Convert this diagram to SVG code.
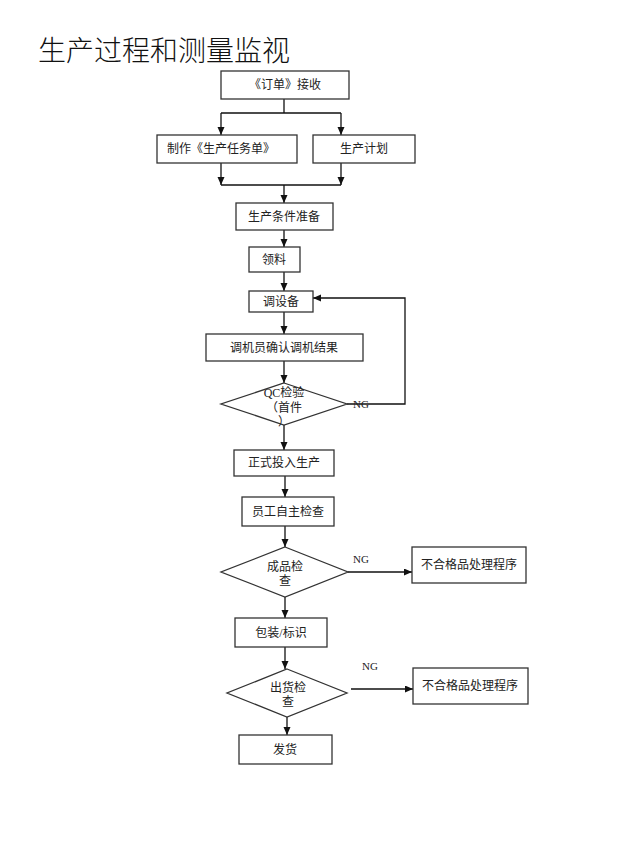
<svg xmlns="http://www.w3.org/2000/svg" width="640" height="853" viewBox="0 0 640 853">
<defs>
<style>
.box{fill:#fff;stroke:#333;stroke-width:1.3}
.t{font-family:"Liberation Serif","Noto Sans CJK SC",serif;font-size:12px;fill:#222;text-anchor:middle}
.ng{font-family:"Liberation Serif",serif;font-size:11px;fill:#222}
.c{fill:none;stroke:#111;stroke-width:1.3}
</style>
<marker id="ah" markerUnits="userSpaceOnUse" markerWidth="9" markerHeight="8" refX="8" refY="3.5" orient="auto">
<path d="M0,0 L8,3.5 L0,7 z" fill="#111"/>
</marker>
</defs>
<rect width="640" height="853" fill="#fff"/>
<text x="38" y="61" font-family="'Noto Sans CJK SC',sans-serif" font-size="28" font-weight="300" fill="#111">生产过程和测量监视</text>

<g id="connectors">
<path class="c" d="M284,99 V113 M221,113 H341"/>
<path class="c" d="M221,113 V135" marker-end="url(#ah)"/>
<path class="c" d="M341,113 V135" marker-end="url(#ah)"/>
<path class="c" d="M221,163 V185" marker-end="url(#ah)"/>
<path class="c" d="M341,163 V185" marker-end="url(#ah)"/>
<path class="c" d="M221,185 H341"/>
<path class="c" d="M284,185 V203" marker-end="url(#ah)"/>
<path class="c" d="M284,230 V247" marker-end="url(#ah)"/>
<path class="c" d="M284,272 V291" marker-end="url(#ah)"/>
<path class="c" d="M284,312 V334" marker-end="url(#ah)"/>
<path class="c" d="M284,361 V383" marker-end="url(#ah)"/>
<path class="c" d="M347,404 H405 V298 H313" marker-end="url(#ah)"/>
<path class="c" d="M284,425 V450" marker-end="url(#ah)"/>
<path class="c" d="M285,476 V497" marker-end="url(#ah)"/>
<path class="c" d="M285,526 V547" marker-end="url(#ah)"/>
<path class="c" d="M348,572 H412" marker-end="url(#ah)"/>
<path class="c" d="M285,597 V618" marker-end="url(#ah)"/>
<path class="c" d="M285,647 V669" marker-end="url(#ah)"/>
<path class="c" d="M351,689 H413" marker-end="url(#ah)"/>
<path class="c" d="M287,717 V735" marker-end="url(#ah)"/>
<text class="ng" x="353" y="408">NG</text>
<text class="ng" x="353" y="563">NG</text>
<text class="ng" x="362" y="670">NG</text>
</g>

<g id="order"><rect class="box" x="221" y="71" width="128" height="28"/><text class="t" x="285" y="89">《订单》接收</text></g>
<g id="task"><rect class="box" x="157" y="135" width="140" height="28"/><text class="t" x="221" y="153">制作《生产任务单》</text></g>
<g id="plan"><rect class="box" x="313" y="135" width="102" height="28"/><text class="t" x="364" y="153">生产计划</text></g>
<g id="prep"><rect class="box" x="236" y="203" width="97" height="27"/><text class="t" x="284" y="221">生产条件准备</text></g>
<g id="material"><rect class="box" x="249" y="247" width="51" height="25"/><text class="t" x="274" y="264">领料</text></g>
<g id="setup"><rect class="box" x="249" y="291" width="64" height="21"/><text class="t" x="281" y="306">调设备</text></g>
<g id="confirm"><rect class="box" x="206" y="334" width="157" height="27"/><text class="t" x="284" y="352">调机员确认调机结果</text></g>
<g id="qc"><polygon class="box" points="284,383 347,404 284,425 221,404"/><text class="t" x="284" y="397">QC检验</text><text class="t" x="284" y="412">（首件</text><text class="t" x="284" y="426">）</text></g>
<g id="produce"><rect class="box" x="234" y="450" width="100" height="26"/><text class="t" x="284" y="467">正式投入生产</text></g>
<g id="selfcheck"><rect class="box" x="242" y="497" width="92" height="29"/><text class="t" x="288" y="516">员工自主检查</text></g>
<g id="fqc"><polygon class="box" points="285,547 348,572 285,597 221,572"/><text class="t" x="285" y="571">成品检</text><text class="t" x="285" y="585">查</text></g>
<g id="ng1"><rect class="box" x="412" y="547" width="114" height="36"/><text class="t" x="469" y="569">不合格品处理程序</text></g>
<g id="pack"><rect class="box" x="235" y="618" width="92" height="29"/><text class="t" x="281" y="637">包装/标识</text></g>
<g id="oqc"><polygon class="box" points="287,669 347,693 287,717 227,693"/><text class="t" x="288" y="692">出货检</text><text class="t" x="288" y="706">查</text></g>
<g id="ng2"><rect class="box" x="413" y="668" width="115" height="36"/><text class="t" x="470" y="690">不合格品处理程序</text></g>
<g id="ship"><rect class="box" x="239" y="735" width="93" height="29"/><text class="t" x="285" y="754">发货</text></g>
</svg>
